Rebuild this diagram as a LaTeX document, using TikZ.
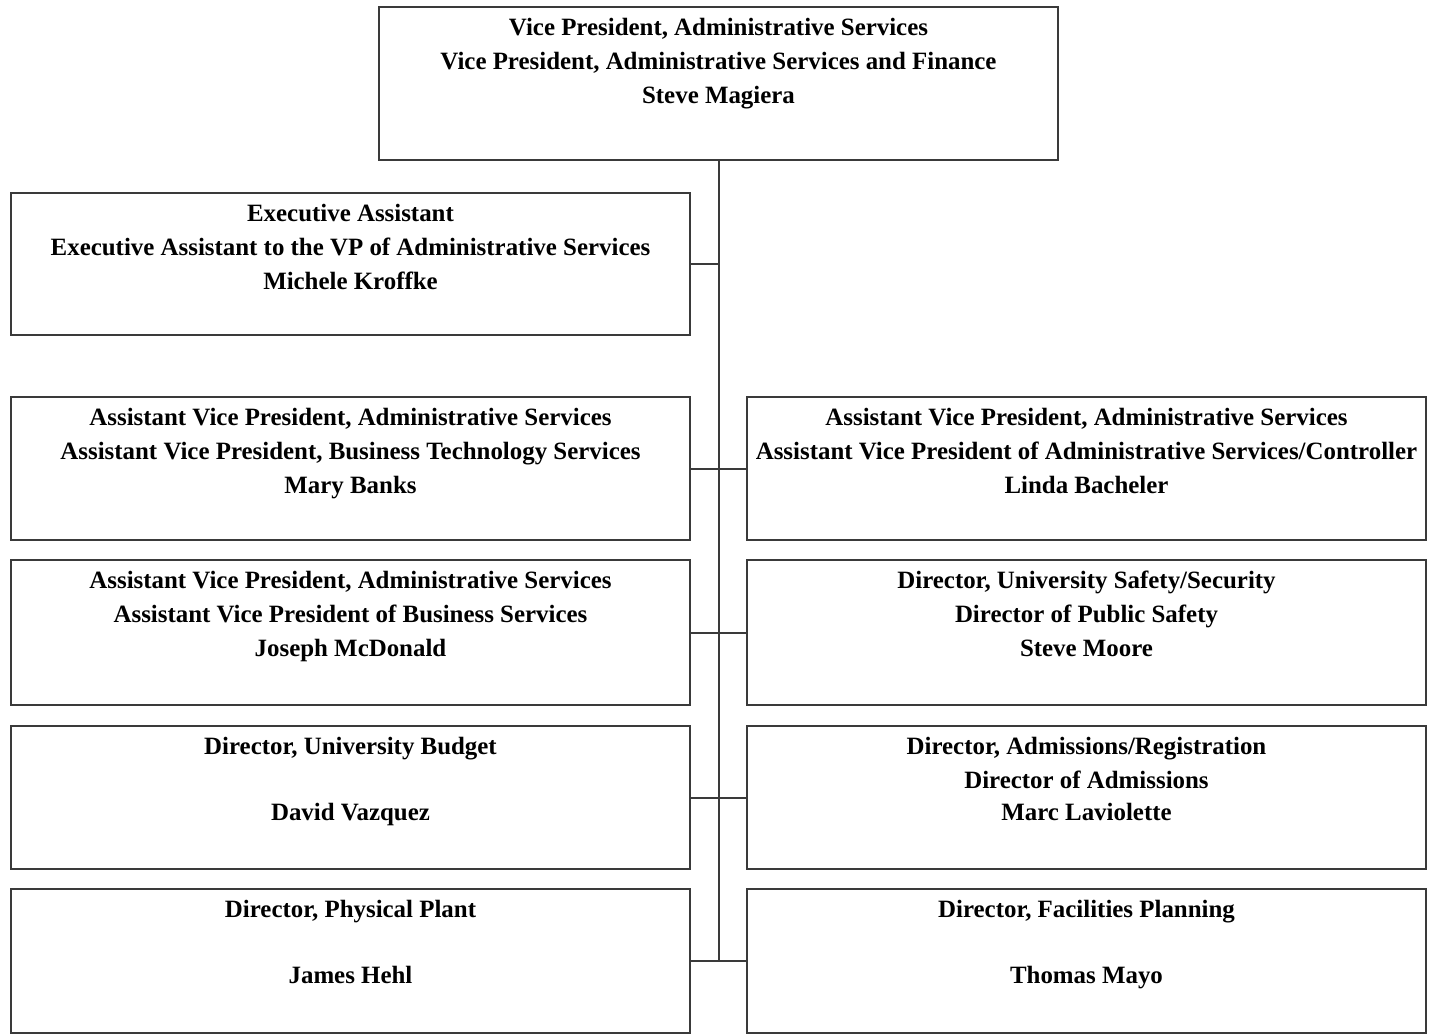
\documentclass[tikz,border=0pt]{standalone}
\usepackage{fontspec}
\setmainfont{Liberation Serif}
\definecolor{linegray}{HTML}{3A3A3A}
\begin{document}
\begin{tikzpicture}[x=1pt,y=-1pt,
  box/.style={draw=linegray,line width=1.8pt,rectangle,minimum width=679pt,inner sep=0pt,outer sep=0pt},
  txt/.style={anchor=north,inner sep=0pt,align=center,font=\fontsize{24.9}{34}\selectfont\bfseries},
  conn/.style={draw=linegray,line width=2pt}]
\useasboundingbox[fill=white] (0,0) rectangle (1429,1035);
% boxes
\node[box,minimum height=153pt] (vp) at (718.5,83.5) {};
\node[box,minimum height=142pt] (ea) at (350.5,264) {};
\node[box,minimum height=143pt] (l1) at (350.5,468.5) {};
\node[box,minimum height=143pt] (r1) at (1086.5,468.5) {};
\node[box,minimum height=145pt] (l2) at (350.5,632.5) {};
\node[box,minimum height=145pt] (r2) at (1086.5,632.5) {};
\node[box,minimum height=143pt] (l3) at (350.5,797.5) {};
\node[box,minimum height=143pt] (r3) at (1086.5,797.5) {};
\node[box,minimum height=144pt] (l4) at (350.5,961) {};
\node[box,minimum height=144pt] (r4) at (1086.5,961) {};
% texts
\node[txt] (vpt) at ([yshift=-11pt]vp.north) {Vice President, Administrative Services\\Vice President, Administrative Services and Finance\\Steve Magiera};
\node[txt] (eat) at ([yshift=-11pt]ea.north) {Executive Assistant\\Executive Assistant to the VP of Administrative Services\\Michele Kroffke};
\node[txt] (l1t) at ([yshift=-11pt]l1.north) {Assistant Vice President, Administrative Services\\Assistant Vice President, Business Technology Services\\Mary Banks};
\node[txt] (r1t) at ([yshift=-11pt]r1.north) {Assistant Vice President, Administrative Services\\Assistant Vice President of Administrative Services/Controller\\Linda Bacheler};
\node[txt] (l2t) at ([yshift=-11pt]l2.north) {Assistant Vice President, Administrative Services\\Assistant Vice President of Business Services\\Joseph McDonald};
\node[txt] (r2t) at ([yshift=-11pt]r2.north) {Director, University Safety/Security\\Director of Public Safety\\Steve Moore};
\node[txt] (l3t) at ([yshift=-11pt]l3.north) {Director, University Budget\\[32pt]David Vazquez};
\node[txt] (r3t) at ([yshift=-11pt]r3.north) {Director, Admissions/Registration\\Director of Admissions\\[-2pt]Marc Laviolette};
\node[txt] (l4t) at ([yshift=-11pt]l4.north) {Director, Physical Plant\\[32pt]James Hehl};
\node[txt] (r4t) at ([yshift=-11pt]r4.north) {Director, Facilities Planning\\[32pt]Thomas Mayo};
% connectors
\draw[conn] (vp.south) -- (vp.south |- l4.east);
\draw[conn] (ea.east) -- (vp.south |- ea.east);
\draw[conn] (l1.east) -- (r1.west);
\draw[conn] (l2.east) -- (r2.west);
\draw[conn] (l3.east) -- (r3.west);
\draw[conn] (l4.east) -- (r4.west);
\end{tikzpicture}
\end{document}
